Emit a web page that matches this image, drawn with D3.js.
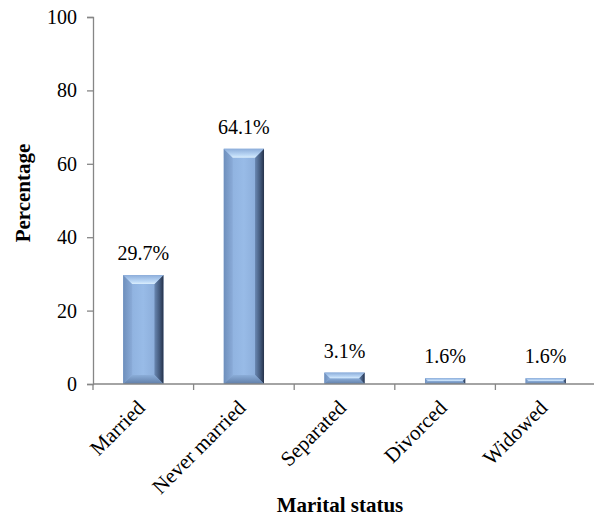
<!DOCTYPE html>
<html>
<head>
<meta charset="utf-8">
<script src="https://cdn.jsdelivr.net/npm/d3@7"></script>
<style>
  html, body { margin: 0; padding: 0; background: #fff; }
  svg { display: block; }
  text { font-family: "Liberation Serif", "Times New Roman", serif; fill: #000; }
</style>
</head>
<body>
<svg id="chart" width="594" height="520"></svg>
<script>
// Marital status distribution (percent of respondents)
const categories = ["Married", "Never married", "Separated", "Divorced", "Widowed"];
const percentages = [29.7, 64.1, 3.1, 1.6, 1.6];
const yTicks = [0, 20, 40, 60, 80, 100];

(function () {
const svg = d3.select("#chart");
const plotLeft = 93, plotRight = 596, plotTop = 17, plotBottom = 384;

const x = d3.scaleBand().domain(categories).range([plotLeft, plotRight]).padding(0);
const y = d3.scaleLinear().domain([0, 100]).range([plotBottom, plotTop]);
const barW = x.bandwidth() * 0.4;

// Gradients for the bevelled bar faces
const defs = svg.append("defs");
function grad(id, x2, y2, stops) {
  const g = defs.append("linearGradient").attr("id", id)
    .attr("x1", 0).attr("y1", 0).attr("x2", x2).attr("y2", y2);
  stops.forEach(([o, c]) => g.append("stop").attr("offset", o).attr("stop-color", c));
}
grad("face", 1, 0, [[0, "#8aaddb"], [0.5, "#98bbe7"], [1, "#84a5d2"]]);
grad("bevL", 1, 0, [[0, "#6e8fbc"], [1, "#8aabd8"]]);
grad("bevR", 1, 0, [[0, "#6a88b2"], [0.6, "#42587a"], [1, "#26324a"]]);
grad("bevT", 0, 1, [[0, "#8cadda"], [0.7, "#bcd8f6"], [1, "#dbeefd"]]);
grad("bevB", 0, 1, [[0, "#8badd8"], [1, "#607ea8"]]);

// Axes
const axisColor = "#868686";
const yAxis = svg.append("g")
  .attr("transform", `translate(${plotLeft},0)`)
  .call(d3.axisLeft(y).tickValues(yTicks).tickSize(6).tickPadding(10));
yAxis.select(".domain").attr("stroke", axisColor).attr("stroke-width", 1.3);
yAxis.selectAll(".tick line").attr("stroke", axisColor).attr("stroke-width", 1.3);
yAxis.selectAll(".tick text")
  .attr("font-family", "Liberation Serif, Times New Roman, serif")
  .attr("font-size", 20).attr("fill", "#000");

// Bars
const bars = svg.append("g").selectAll("g").data(categories).join("g");
bars.each(function (c, i) {
  const g = d3.select(this);
  const v = percentages[i];
  const cx = x(c) + x.bandwidth() / 2;
  const x0 = cx - barW / 2, x1 = cx + barW / 2;
  const y0 = y(v), y1 = y(0);
  const h = y1 - y0;
  const b = Math.min(9, h / 2, barW / 2);
  const pts = p => p.map(q => q.join(",")).join(" ");
  g.append("rect").attr("x", x0).attr("y", y0).attr("width", barW).attr("height", h)
    .attr("fill", "url(#face)");
  g.append("polygon").attr("points", pts([[x0, y0], [x0 + b, y0 + b], [x0 + b, y1 - b], [x0, y1]]))
    .attr("fill", "url(#bevL)");
  g.append("polygon").attr("points", pts([[x1, y0], [x1 - b, y0 + b], [x1 - b, y1 - b], [x1, y1]]))
    .attr("fill", "url(#bevR)");
  g.append("polygon").attr("points", pts([[x0, y1], [x1, y1], [x1 - b, y1 - b], [x0 + b, y1 - b]]))
    .attr("fill", "url(#bevB)");
  g.append("polygon").attr("points", pts([[x0, y0], [x1, y0], [x1 - b, y0 + b], [x0 + b, y0 + b]]))
    .attr("fill", "url(#bevT)");
  g.append("text").attr("x", cx).attr("y", y0 - 15)
    .attr("text-anchor", "middle").attr("font-size", 20)
    .text(v.toFixed(1) + "%");
});

// Category axis: line with tick marks between categories
const xAxis = svg.append("g");
xAxis.append("line").attr("x1", plotLeft).attr("x2", 594).attr("y1", plotBottom).attr("y2", plotBottom)
  .attr("stroke", axisColor).attr("stroke-width", 1.3);
xAxis.selectAll("line.tk").data(categories).join("line").attr("class", "tk")
  .attr("x1", d => x(d)).attr("x2", d => x(d))
  .attr("y1", plotBottom).attr("y2", plotBottom + 6)
  .attr("stroke", axisColor).attr("stroke-width", 1.3);
xAxis.selectAll("text").data(categories).join("text")
  .attr("transform", d => `translate(${x(d) + x.bandwidth() / 2 + 3},${plotBottom + 25}) rotate(-45)`)
  .attr("text-anchor", "end").attr("font-size", 21)
  .text(d => d);

// Axis titles
svg.append("text").attr("x", 340).attr("y", 512).attr("text-anchor", "middle")
  .attr("font-size", 21).attr("font-weight", "bold").text("Marital status");
svg.append("text").attr("transform", "translate(30,193) rotate(-90)")
  .attr("text-anchor", "middle").attr("font-size", 21).attr("font-weight", "bold")
  .text("Percentage");
})();
</script>
</body>
</html>
